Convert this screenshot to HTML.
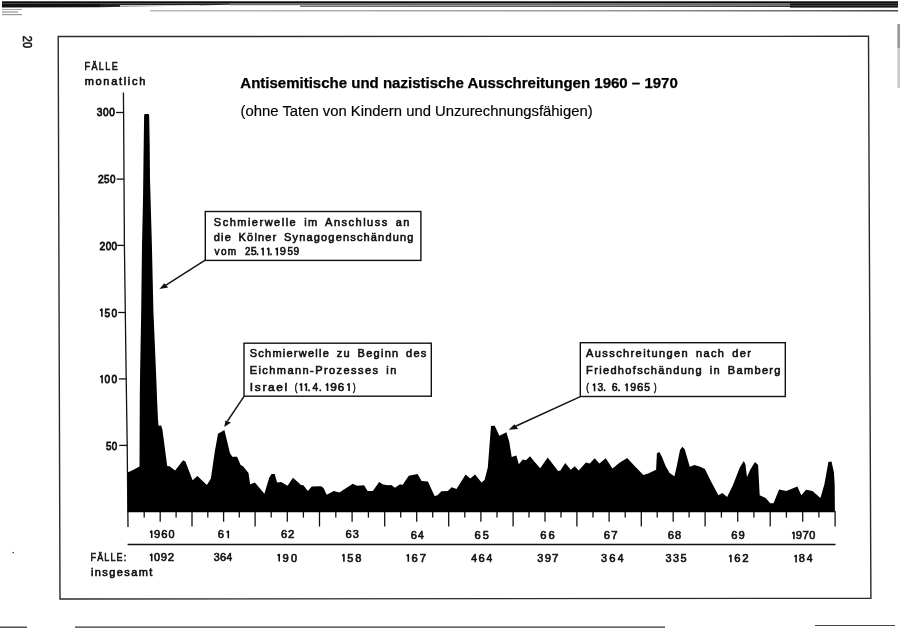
<!DOCTYPE html>
<html><head><meta charset="utf-8"><style>
html,body{margin:0;padding:0;background:#fff;width:900px;height:629px;overflow:hidden}
svg{display:block}
text{font-family:"Liberation Sans", sans-serif}
.d{font-size:11px;letter-spacing:1.4px;word-spacing:2.4px;stroke:#111;stroke-width:0.6px}
.n{font-size:10.8px;stroke:#111;stroke-width:0.6px}
.ax{font-size:11.6px;stroke:#111;stroke-width:0.8px}
</style></head><body>
<svg width="900" height="629" viewBox="0 0 900 629" style="will-change:transform">
<defs>
<linearGradient id="tg" x1="0" y1="0" x2="1" y2="0">
<stop offset="0" stop-color="#111"/><stop offset="0.35" stop-color="#222"/><stop offset="0.5" stop-color="#555"/><stop offset="0.65" stop-color="#333"/><stop offset="1" stop-color="#111"/>
</linearGradient>
</defs>
<rect x="0" y="0" width="900" height="629" fill="#fff"/>
<!-- top scan bar -->
<linearGradient id="gC" x1="0" y1="0" x2="1" y2="0"><stop offset="0" stop-color="#777"/><stop offset="0.5" stop-color="#555"/><stop offset="0.8" stop-color="#333"/><stop offset="1" stop-color="#111"/></linearGradient>
<linearGradient id="gD" x1="0" y1="0" x2="1" y2="0"><stop offset="0" stop-color="#bbb"/><stop offset="0.6" stop-color="#999"/><stop offset="0.9" stop-color="#666"/><stop offset="1" stop-color="#444"/></linearGradient>
<rect x="2" y="1.3" width="896" height="2.2" fill="#0a0a0a"/>
<polygon points="2,3.4 100,3.4 100,7.3 2,7.6" fill="#111"/>
<polygon points="100,3.4 230,3.4 230,4.8 100,7.3" fill="#222"/>
<polygon points="120,5.2 200,5.2 200,6.2 120,6.6" fill="#fff"/>
<rect x="230" y="3.4" width="668" height="1.8" fill="#6a6a6a"/>
<rect x="300" y="5.4" width="598" height="1.6" fill="url(#gC)"/>
<rect x="790" y="3.4" width="108" height="4.2" fill="#151515"/>
<rect x="790" y="5.2" width="108" height="0.7" fill="#555"/>
<rect x="150" y="10" width="748" height="1.5" fill="url(#gD)"/>
<rect x="2" y="9" width="20" height="1" fill="#666" opacity="0.6"/>
<rect x="2" y="11.5" width="16" height="1" fill="#444" opacity="0.7"/>
<rect x="2" y="14" width="20" height="1.2" fill="#555" opacity="0.6"/>
<rect x="897.3" y="24" width="2.7" height="24" fill="#999"/>
<rect x="897.3" y="48" width="2.7" height="40" fill="#ccc"/>
<circle cx="13.3" cy="552.5" r="0.8" fill="#333"/>
<!-- page number -->
<text transform="translate(22.8,35.8) rotate(90) scale(0.86,1)" x="0" y="0" style="font-size:12.8px;stroke:#111;stroke-width:0.55px" fill="#111">20</text>
<!-- frame -->
<polygon points="58.2,36.5 868.5,36.3 870.9,598.3 60,599" fill="none" stroke="#2a2a2a" stroke-width="1.4"/>
<!-- bottom rule -->
<line x1="0" y1="627.2" x2="27" y2="627.2" stroke="#333" stroke-width="1.3"/>
<line x1="75" y1="627.2" x2="665" y2="627.2" stroke="#333" stroke-width="1.3"/>
<line x1="815" y1="625.5" x2="895" y2="625.5" stroke="#444" stroke-width="1.2"/>
<!-- title -->
<text x="240.3" y="87.7" style="font-weight:bold;font-size:14.2px;stroke:#000;stroke-width:0.25px" textLength="437.5" lengthAdjust="spacingAndGlyphs">Antisemitische und nazistische Ausschreitungen 1960 – 1970</text>
<text x="240.6" y="116.4" style="font-size:13.8px;stroke:#000;stroke-width:0.15px" textLength="352" lengthAdjust="spacingAndGlyphs">(ohne Taten von Kindern und Unzurechnungsfähigen)</text>
<!-- y label -->
<g class="d" fill="#111"><text transform="translate(84.5,70.4) scale(0.82,1)" style="letter-spacing:0" x="0" y="0" textLength="40.5" lengthAdjust="spacing">FÄLLE</text></g>
<text class="d" x="84.7" y="85.3" textLength="62.0" lengthAdjust="spacing">monatlich</text>
<!-- axis -->
<g stroke="#111" stroke-width="1.3" fill="none">
<polyline points="123.4,92.4 123.6,112 124.4,245 125.3,312 126.2,379 127.2,445 128.0,527"/>
<line x1="116.1" y1="112.5" x2="123.6" y2="112.5"/>
<line x1="116.6" y1="179.1" x2="124.0" y2="179.1"/>
<line x1="117.2" y1="245.4" x2="124.4" y2="245.4"/>
<line x1="118.2" y1="312.5" x2="125.3" y2="312.5"/>
<line x1="119.0" y1="378.9" x2="126.2" y2="378.9"/>
<line x1="119.2" y1="445.4" x2="127.2" y2="445.4"/>
</g>
<g class="ax" fill="#111"><text transform="translate(96.82,115.70) scale(0.879,1)" x="0" y="0" style="letter-spacing:0">3</text><text transform="translate(103.06,115.70) scale(0.871,1)" x="0" y="0" style="letter-spacing:0">0</text><text transform="translate(109.31,115.70) scale(0.871,1)" x="0" y="0" style="letter-spacing:0">0</text><text transform="translate(98.09,183.00) scale(0.890,1)" x="0" y="0" style="letter-spacing:0">2</text><text transform="translate(104.07,183.00) scale(0.854,1)" x="0" y="0" style="letter-spacing:0">5</text><text transform="translate(109.95,183.00) scale(0.847,1)" x="0" y="0" style="letter-spacing:0">0</text><text transform="translate(99.58,250.10) scale(0.903,1)" x="0" y="0" style="letter-spacing:0">2</text><text transform="translate(105.65,250.10) scale(0.859,1)" x="0" y="0" style="letter-spacing:0">0</text><text transform="translate(111.58,250.10) scale(0.859,1)" x="0" y="0" style="letter-spacing:0">0</text><path d="M101.90,316.70V308.76M102.38,308.76L100.04,310.51" fill="none" stroke="#111" stroke-width="1.60" stroke-linecap="butt"/><text transform="translate(104.45,316.70) scale(0.879,1)" x="0" y="0" style="letter-spacing:0">5</text><text transform="translate(111.41,316.70) scale(0.871,1)" x="0" y="0" style="letter-spacing:0">0</text><path d="M102.10,383.30V375.36M102.58,375.36L100.24,377.11" fill="none" stroke="#111" stroke-width="1.60" stroke-linecap="butt"/><text transform="translate(104.56,383.30) scale(0.871,1)" x="0" y="0" style="letter-spacing:0">0</text><text transform="translate(111.41,383.30) scale(0.871,1)" x="0" y="0" style="letter-spacing:0">0</text><text transform="translate(106.01,449.90) scale(0.851,1)" x="0" y="0" style="letter-spacing:0">5</text><text transform="translate(111.87,449.90) scale(0.844,1)" x="0" y="0" style="letter-spacing:0">0</text></g>
<!-- area -->
<polygon points="127.6,472.4 133.0,470.0 139.5,466.5 139.8,395.0 140.0,379.0 141.2,311.0 142.0,245.0 143.0,200.0 143.5,160.0 144.1,116.0 144.5,114.0 148.7,114.0 149.2,116.0 149.7,145.0 150.0,179.0 151.9,245.0 153.4,311.0 156.3,379.0 156.9,395.0 158.0,420.0 158.5,425.5 159.8,425.8 161.1,425.3 162.4,429.4 167.2,466.0 169.5,466.2 175.1,470.6 183.1,460.3 185.4,461.4 192.6,480.2 197.4,475.9 206.9,485.0 210.9,478.6 214.8,451.6 218.0,433.8 224.4,430.1 230.0,453.2 232.3,456.7 237.1,456.7 240.6,465.1 243.0,466.2 248.5,473.0 250.1,484.2 254.9,482.6 264.4,493.7 269.2,477.8 271.6,474.1 274.7,474.1 277.1,482.6 281.1,482.1 287.5,485.7 293.0,477.8 301.0,485.0 303.4,485.3 307.8,491.0 311.3,486.9 312.0,486.5 321.1,486.2 323.5,488.1 326.7,494.8 333.8,491.0 339.4,492.4 346.6,487.8 352.9,483.7 356.9,485.7 364.1,485.3 367.6,491.0 372.8,491.0 379.2,482.1 383.1,484.6 387.9,485.3 391.4,485.0 394.9,487.8 400.1,484.2 402.5,485.0 408.8,475.7 417.6,474.1 421.6,481.0 427.9,481.5 434.6,496.1 437.5,495.3 441.4,491.3 447.8,491.0 451.8,487.3 456.5,488.9 465.6,474.6 470.3,478.6 475.1,474.6 481.5,482.6 484.6,479.9 487.8,467.5 491.0,426.1 494.7,425.8 499.4,435.7 506.4,432.2 509.3,442.0 511.7,457.1 516.4,455.5 518.8,464.3 522.8,459.5 526.0,460.3 530.0,456.3 534.7,461.9 540.2,468.3 547.7,457.6 558.1,471.0 560.4,470.6 565.2,463.0 570.8,469.8 574.7,466.2 578.7,470.6 585.9,462.4 589.8,463.5 594.6,458.2 599.4,463.5 605.7,458.2 612.5,468.5 619.5,462.7 627.2,457.9 634.6,465.9 643.4,475.1 648.2,473.5 656.1,469.8 656.9,453.2 659.3,451.9 661.7,456.3 665.6,465.9 669.6,473.0 674.4,476.2 676.8,465.9 680.0,450.0 682.3,446.8 684.7,449.2 689.8,466.7 694.5,465.1 700.1,466.7 704.9,469.1 711.2,481.8 718.4,495.3 722.4,492.9 727.1,496.9 732.7,485.7 739.8,467.5 743.8,461.1 745.4,464.3 747.0,477.0 750.2,469.8 755.0,461.9 758.1,465.1 759.7,495.3 765.6,498.0 770.3,503.2 773.5,503.2 779.1,489.4 786.2,491.0 797.4,486.5 801.3,495.3 806.1,489.7 812.5,491.0 820.4,498.0 824.4,484.2 828.4,461.9 831.5,461.4 833.9,472.2 834.7,485.0 834.9,512.3 127.6,512.3" fill="#000"/>
<!-- x ticks -->
<g stroke="#111" stroke-width="1.3"><line x1="144.2" y1="511" x2="144.2" y2="517.6"/><line x1="160.2" y1="511" x2="160.2" y2="521.7"/><line x1="176.1" y1="511" x2="176.1" y2="517.6"/><line x1="192.0" y1="511" x2="192.0" y2="526.6"/><line x1="207.8" y1="511" x2="207.8" y2="517.6"/><line x1="223.6" y1="511" x2="223.6" y2="521.7"/><line x1="239.3" y1="511" x2="239.3" y2="517.6"/><line x1="255.1" y1="511" x2="255.1" y2="526.6"/><line x1="271.2" y1="511" x2="271.2" y2="517.6"/><line x1="287.3" y1="511" x2="287.3" y2="521.7"/><line x1="303.4" y1="511" x2="303.4" y2="517.6"/><line x1="319.5" y1="511" x2="319.5" y2="526.6"/><line x1="335.8" y1="511" x2="335.8" y2="517.6"/><line x1="352.1" y1="511" x2="352.1" y2="521.7"/><line x1="368.4" y1="511" x2="368.4" y2="517.6"/><line x1="384.7" y1="511" x2="384.7" y2="526.6"/><line x1="400.7" y1="511" x2="400.7" y2="517.6"/><line x1="416.7" y1="511" x2="416.7" y2="521.7"/><line x1="432.7" y1="511" x2="432.7" y2="517.6"/><line x1="448.7" y1="511" x2="448.7" y2="526.6"/><line x1="464.8" y1="511" x2="464.8" y2="517.6"/><line x1="480.9" y1="511" x2="480.9" y2="521.7"/><line x1="497.0" y1="511" x2="497.0" y2="517.6"/><line x1="513.1" y1="511" x2="513.1" y2="526.6"/><line x1="529.0" y1="511" x2="529.0" y2="517.6"/><line x1="545.0" y1="511" x2="545.0" y2="521.7"/><line x1="561.0" y1="511" x2="561.0" y2="517.6"/><line x1="576.9" y1="511" x2="576.9" y2="526.6"/><line x1="593.0" y1="511" x2="593.0" y2="517.6"/><line x1="609.1" y1="511" x2="609.1" y2="521.7"/><line x1="625.2" y1="511" x2="625.2" y2="517.6"/><line x1="641.3" y1="511" x2="641.3" y2="526.6"/><line x1="657.2" y1="511" x2="657.2" y2="517.6"/><line x1="673.2" y1="511" x2="673.2" y2="521.7"/><line x1="689.1" y1="511" x2="689.1" y2="517.6"/><line x1="705.1" y1="511" x2="705.1" y2="526.6"/><line x1="721.4" y1="511" x2="721.4" y2="517.6"/><line x1="737.7" y1="511" x2="737.7" y2="521.7"/><line x1="753.9" y1="511" x2="753.9" y2="517.6"/><line x1="770.2" y1="511" x2="770.2" y2="526.6"/><line x1="786.4" y1="511" x2="786.4" y2="517.6"/><line x1="802.7" y1="511" x2="802.7" y2="521.7"/><line x1="818.9" y1="511" x2="818.9" y2="517.6"/><line x1="835.1" y1="511" x2="835.1" y2="526.6"/></g>
<line x1="127.6" y1="544.6" x2="835.5" y2="544.6" stroke="#111" stroke-width="1.5"/>
<g class="n" fill="#111"><path d="M151.70,538.10V530.65M152.18,530.65L149.96,532.29" fill="none" stroke="#111" stroke-width="1.60" stroke-linecap="butt"/><text transform="translate(153.98,538.10) scale(1.040,1)" x="0" y="0" style="letter-spacing:0">9</text><text transform="translate(161.14,538.10) scale(1.040,1)" x="0" y="0" style="letter-spacing:0">6</text><text transform="translate(168.48,538.10) scale(1.005,1)" x="0" y="0" style="letter-spacing:0">0</text><text transform="translate(217.84,538.22) scale(1.040,1)" x="0" y="0" style="letter-spacing:0">6</text><path d="M228.30,538.22V530.78M228.78,530.78L226.56,532.41" fill="none" stroke="#111" stroke-width="1.60" stroke-linecap="butt"/><text transform="translate(280.94,538.34) scale(1.040,1)" x="0" y="0" style="letter-spacing:0">6</text><text transform="translate(287.93,538.34) scale(1.056,1)" x="0" y="0" style="letter-spacing:0">2</text><text transform="translate(345.54,538.46) scale(1.040,1)" x="0" y="0" style="letter-spacing:0">6</text><text transform="translate(352.68,538.46) scale(1.014,1)" x="0" y="0" style="letter-spacing:0">3</text><text transform="translate(410.74,538.57) scale(1.040,1)" x="0" y="0" style="letter-spacing:0">6</text><text transform="translate(418.07,538.57) scale(0.953,1)" x="0" y="0" style="letter-spacing:0">4</text><text transform="translate(474.54,538.69) scale(1.040,1)" x="0" y="0" style="letter-spacing:0">6</text><text transform="translate(482.86,538.69) scale(1.014,1)" x="0" y="0" style="letter-spacing:0">5</text><text transform="translate(540.24,538.81) scale(1.040,1)" x="0" y="0" style="letter-spacing:0">6</text><text transform="translate(548.44,538.81) scale(1.040,1)" x="0" y="0" style="letter-spacing:0">6</text><text transform="translate(603.74,538.93) scale(1.040,1)" x="0" y="0" style="letter-spacing:0">6</text><text transform="translate(611.22,538.93) scale(1.058,1)" x="0" y="0" style="letter-spacing:0">7</text><text transform="translate(667.74,539.04) scale(1.040,1)" x="0" y="0" style="letter-spacing:0">6</text><text transform="translate(675.12,539.04) scale(1.024,1)" x="0" y="0" style="letter-spacing:0">8</text><text transform="translate(731.34,539.16) scale(1.040,1)" x="0" y="0" style="letter-spacing:0">6</text><text transform="translate(738.38,539.16) scale(1.040,1)" x="0" y="0" style="letter-spacing:0">9</text><path d="M793.90,539.27V531.82M794.38,531.82L792.16,533.46" fill="none" stroke="#111" stroke-width="1.60" stroke-linecap="butt"/><text transform="translate(795.72,539.27) scale(1.040,1)" x="0" y="0" style="letter-spacing:0">9</text><text transform="translate(802.38,539.27) scale(1.058,1)" x="0" y="0" style="letter-spacing:0">7</text><text transform="translate(809.28,539.27) scale(1.005,1)" x="0" y="0" style="letter-spacing:0">0</text></g>
<g class="n" fill="#111"><path d="M151.70,561.30V553.85M152.18,553.85L149.96,555.49" fill="none" stroke="#111" stroke-width="1.60" stroke-linecap="butt"/><text transform="translate(153.91,561.30) scale(1.005,1)" x="0" y="0" style="letter-spacing:0">0</text><text transform="translate(160.85,561.30) scale(1.040,1)" x="0" y="0" style="letter-spacing:0">9</text><text transform="translate(167.83,561.30) scale(1.056,1)" x="0" y="0" style="letter-spacing:0">2</text><text transform="translate(213.79,561.42) scale(0.994,1)" x="0" y="0" style="letter-spacing:0">3</text><text transform="translate(219.95,561.42) scale(1.020,1)" x="0" y="0" style="letter-spacing:0">6</text><text transform="translate(226.58,561.42) scale(0.935,1)" x="0" y="0" style="letter-spacing:0">4</text><path d="M279.20,561.53V554.09M279.68,554.09L277.46,555.72" fill="none" stroke="#111" stroke-width="1.60" stroke-linecap="butt"/><text transform="translate(282.53,561.53) scale(1.040,1)" x="0" y="0" style="letter-spacing:0">9</text><text transform="translate(290.88,561.53) scale(1.005,1)" x="0" y="0" style="letter-spacing:0">0</text><path d="M343.90,561.65V554.20M344.38,554.20L342.16,555.84" fill="none" stroke="#111" stroke-width="1.60" stroke-linecap="butt"/><text transform="translate(347.16,561.65) scale(1.014,1)" x="0" y="0" style="letter-spacing:0">5</text><text transform="translate(355.22,561.65) scale(1.024,1)" x="0" y="0" style="letter-spacing:0">8</text><path d="M408.30,561.77V554.32M408.78,554.32L406.56,555.95" fill="none" stroke="#111" stroke-width="1.60" stroke-linecap="butt"/><text transform="translate(411.54,561.77) scale(1.040,1)" x="0" y="0" style="letter-spacing:0">6</text><text transform="translate(419.72,561.77) scale(1.058,1)" x="0" y="0" style="letter-spacing:0">7</text><text transform="translate(471.17,561.88) scale(0.953,1)" x="0" y="0" style="letter-spacing:0">4</text><text transform="translate(478.54,561.88) scale(1.040,1)" x="0" y="0" style="letter-spacing:0">6</text><text transform="translate(486.57,561.88) scale(0.953,1)" x="0" y="0" style="letter-spacing:0">4</text><text transform="translate(537.28,562.00) scale(1.014,1)" x="0" y="0" style="letter-spacing:0">3</text><text transform="translate(544.68,562.00) scale(1.040,1)" x="0" y="0" style="letter-spacing:0">9</text><text transform="translate(552.12,562.00) scale(1.058,1)" x="0" y="0" style="letter-spacing:0">7</text><text transform="translate(601.08,562.12) scale(1.014,1)" x="0" y="0" style="letter-spacing:0">3</text><text transform="translate(609.24,562.12) scale(1.040,1)" x="0" y="0" style="letter-spacing:0">6</text><text transform="translate(617.87,562.12) scale(0.953,1)" x="0" y="0" style="letter-spacing:0">4</text><text transform="translate(665.48,562.24) scale(1.014,1)" x="0" y="0" style="letter-spacing:0">3</text><text transform="translate(672.98,562.24) scale(1.014,1)" x="0" y="0" style="letter-spacing:0">3</text><text transform="translate(680.46,562.24) scale(1.014,1)" x="0" y="0" style="letter-spacing:0">5</text><path d="M730.90,562.35V554.91M731.38,554.91L729.16,556.54" fill="none" stroke="#111" stroke-width="1.60" stroke-linecap="butt"/><text transform="translate(734.14,562.35) scale(1.040,1)" x="0" y="0" style="letter-spacing:0">6</text><text transform="translate(742.33,562.35) scale(1.056,1)" x="0" y="0" style="letter-spacing:0">2</text><path d="M796.10,562.47V555.02M796.58,555.02L794.36,556.66" fill="none" stroke="#111" stroke-width="1.60" stroke-linecap="butt"/><text transform="translate(798.82,562.47) scale(1.024,1)" x="0" y="0" style="letter-spacing:0">8</text><text transform="translate(806.67,562.47) scale(0.953,1)" x="0" y="0" style="letter-spacing:0">4</text></g>
<g class="d" fill="#111"><text transform="translate(90.5,561.1) scale(0.82,1)" style="letter-spacing:0" x="0" y="0" textLength="43.6" lengthAdjust="spacing">FÄLLE:</text></g>
<text class="d" x="90.9" y="575.7" textLength="62.8" lengthAdjust="spacing">insgesamt</text>
<!-- boxes -->
<g fill="#fff" stroke="#111" stroke-width="1.4">
<rect x="205.3" y="211.5" width="215.6" height="48.9"/>
<rect x="244" y="343.2" width="187.3" height="53"/>
<rect x="580.3" y="342.7" width="205" height="53.8"/>
</g>
<g class="d" fill="#111">
<text x="213.8" y="225.7" textLength="197.0" lengthAdjust="spacing">Schmierwelle im Anschluss an</text>
<text x="213.8" y="240.7" textLength="201.0" lengthAdjust="spacing">die Kölner Synagogenschändung</text>
<text x="249.7" y="356.7" textLength="178.0" lengthAdjust="spacing">Schmierwelle zu Beginn des</text>
<text x="249.7" y="373.7" textLength="148.0" lengthAdjust="spacing">Eichmann-Prozesses in</text>
<text x="586.1" y="356.7" textLength="166.2" lengthAdjust="spacing">Ausschreitungen nach der</text>
<text x="586.1" y="374.0" textLength="195.8" lengthAdjust="spacing">Friedhofschändung in Bamberg</text>
<text transform="translate(214.62,255.40) scale(0.914,1)" x="0" y="0" style="letter-spacing:0;word-spacing:0" textLength="23.63" lengthAdjust="spacing">vom</text><text transform="translate(245.12,255.40) scale(0.877,1)" x="0" y="0" style="letter-spacing:0">2</text><text transform="translate(250.87,255.40) scale(0.976,1)" x="0" y="0" style="letter-spacing:0">5</text><text transform="translate(256.12,255.40) scale(1.000,1)" x="0" y="0" style="letter-spacing:0">.</text><path d="M263.10,255.40V247.81M263.58,247.81L261.32,249.48" fill="none" stroke="#111" stroke-width="1.60" stroke-linecap="butt"/><path d="M268.70,255.40V247.81M269.18,247.81L266.92,249.48" fill="none" stroke="#111" stroke-width="1.60" stroke-linecap="butt"/><text transform="translate(269.47,255.40) scale(1.000,1)" x="0" y="0" style="letter-spacing:0">.</text><path d="M277.25,255.40V247.81M277.73,247.81L275.47,249.48" fill="none" stroke="#111" stroke-width="1.60" stroke-linecap="butt"/><text transform="translate(279.79,255.40) scale(1.001,1)" x="0" y="0" style="letter-spacing:0">9</text><text transform="translate(287.60,255.40) scale(0.900,1)" x="0" y="0" style="letter-spacing:0">5</text><text transform="translate(293.53,255.40) scale(0.923,1)" x="0" y="0" style="letter-spacing:0">9</text><text transform="translate(249.86,391.10) scale(1.080,1)" x="0" y="0" style="letter-spacing:0;word-spacing:0" textLength="34.61" lengthAdjust="spacing">Israel</text><text transform="translate(294.81,391.10) scale(0.718,1)" x="0" y="0" style="letter-spacing:0">(</text><path d="M301.45,391.10V383.51M301.93,383.51L299.67,385.18" fill="none" stroke="#111" stroke-width="1.60" stroke-linecap="butt"/><path d="M306.35,391.10V383.51M306.83,383.51L304.57,385.18" fill="none" stroke="#111" stroke-width="1.60" stroke-linecap="butt"/><text transform="translate(307.42,391.10) scale(1.000,1)" x="0" y="0" style="letter-spacing:0">.</text><text transform="translate(312.48,391.10) scale(0.918,1)" x="0" y="0" style="letter-spacing:0">4</text><text transform="translate(318.82,391.10) scale(1.000,1)" x="0" y="0" style="letter-spacing:0">.</text><path d="M327.55,391.10V383.51M328.03,383.51L325.77,385.18" fill="none" stroke="#111" stroke-width="1.60" stroke-linecap="butt"/><text transform="translate(330.25,391.10) scale(1.080,1)" x="0" y="0" style="letter-spacing:0">9</text><text transform="translate(337.82,391.10) scale(1.060,1)" x="0" y="0" style="letter-spacing:0">6</text><path d="M349.05,391.10V383.51M349.53,383.51L347.27,385.18" fill="none" stroke="#111" stroke-width="1.60" stroke-linecap="butt"/><text transform="translate(353.04,391.10) scale(0.700,1)" x="0" y="0" style="letter-spacing:0">)</text><text transform="translate(586.31,391.30) scale(0.718,1)" x="0" y="0" style="letter-spacing:0">(</text><path d="M594.55,391.30V383.71M595.03,383.71L592.77,385.38" fill="none" stroke="#111" stroke-width="1.60" stroke-linecap="butt"/><text transform="translate(597.41,391.30) scale(0.938,1)" x="0" y="0" style="letter-spacing:0">3</text><text transform="translate(603.12,391.30) scale(1.000,1)" x="0" y="0" style="letter-spacing:0">.</text><text transform="translate(611.67,391.30) scale(0.962,1)" x="0" y="0" style="letter-spacing:0">6</text><text transform="translate(617.52,391.30) scale(1.000,1)" x="0" y="0" style="letter-spacing:0">.</text><path d="M627.05,391.30V383.71M627.53,383.71L625.27,385.38" fill="none" stroke="#111" stroke-width="1.60" stroke-linecap="butt"/><text transform="translate(630.31,391.30) scale(0.962,1)" x="0" y="0" style="letter-spacing:0">9</text><text transform="translate(636.93,391.30) scale(1.041,1)" x="0" y="0" style="letter-spacing:0">6</text><text transform="translate(644.29,391.30) scale(0.938,1)" x="0" y="0" style="letter-spacing:0">5</text><text transform="translate(653.89,391.30) scale(0.700,1)" x="0" y="0" style="letter-spacing:0">)</text>
</g>
<!-- arrows -->
<g stroke="#111" stroke-width="1.4" fill="none">
<line x1="205.2" y1="260.2" x2="164" y2="286.4"/>
<line x1="244" y1="396.4" x2="227.5" y2="421"/>
<line x1="580.3" y1="396.6" x2="515" y2="426.5"/>
</g>
<g fill="#111">
<polygon points="159.4,289 164.3,283.2 168.3,287.6"/>
<polygon points="224.3,426.9 225.4,420.5 231,422.6"/>
<polygon points="508.7,429.7 514.4,424.2 518.2,428.9"/>
</g>
</svg>
</body></html>
